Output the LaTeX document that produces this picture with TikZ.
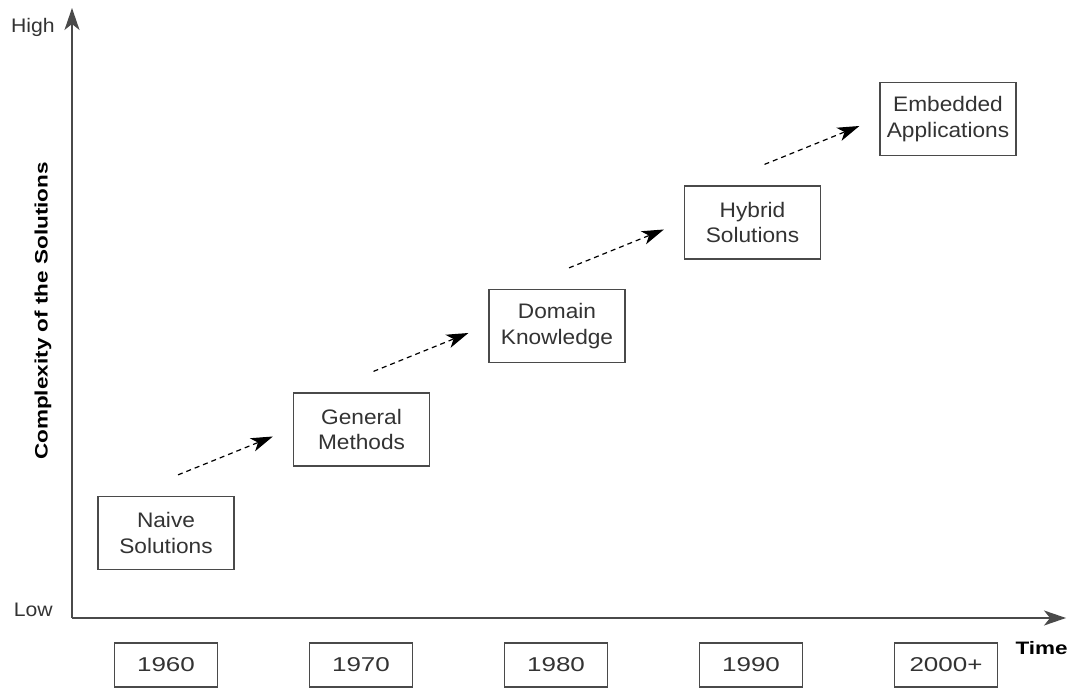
\documentclass[tikz,border=0pt]{standalone}
\usepackage{fontspec}
\setmainfont[FakeStretch=1.08]{Liberation Sans}
\newfontfamily\yearfont[FakeStretch=1.3]{Liberation Sans}
\newfontfamily\headfont[FakeStretch=1.25]{Liberation Sans}
\usetikzlibrary{arrows.meta}
\definecolor{ink}{HTML}{333333}
\definecolor{rule}{HTML}{4A4A4A}
\begin{document}
\begin{tikzpicture}[x=0.5pt,y=-0.5pt,
  stagebox/.style={draw=rule,line width=0.6pt,fill=white,text=ink,align=center,
    minimum width=68pt,minimum height=36.5pt,inner sep=0pt,
    font=\fontsize{10.5}{12.8}\selectfont},
  yearbox/.style={draw=rule,line width=0.6pt,fill=white,text=ink,
    minimum width=51.5pt,minimum height=22pt,inner sep=0pt,
    font=\yearfont\fontsize{10}{12}\selectfont},
  axis/.style={rule,line width=0.8pt,-{Stealth[length=11pt,width=7.5pt,inset=3pt]}},
  flow/.style={black,line width=0.6pt,dash pattern=on 2.5pt off 2pt,
    -{Stealth[length=11pt,width=7pt,inset=3pt]}},
  axislabel/.style={text=ink,font=\fontsize{9.8}{11}\selectfont},
  headlabel/.style={text=black,font=\headfont\bfseries\fontsize{9}{11}\selectfont}]
\useasboundingbox (0,0) rectangle (1079,688);
% axes
\coordinate (origin) at (72,618);
\coordinate (ytip) at (72,8);
\coordinate (xtip) at (1066,618);
\draw [axis] (origin) -- (ytip);
\draw [axis] (origin) -- (xtip);
\node [axislabel,anchor=base east,inner sep=0pt] (high) at (55,33) {High};
\node [axislabel,anchor=base east,inner sep=0pt] (low) at (53,616) {Low};
\node [headlabel,anchor=base east,inner sep=0pt] (time) at (1068,654) {Time};
\node [headlabel,rotate=90] (complexity) at (43,311) {Complexity of the Solutions};
% years
\foreach \yr [count=\i from 0] in {1960,1970,1980,1990,2000+}{
\node [yearbox] (year\i) at (166+195*\i,665) {\yr};
}
% stages
\foreach \name/\txt [count=\i from 0] in {naive/{Naive\\Solutions},general/{General\\Methods},domain/{Domain\\Knowledge},hybrid/{Hybrid\\Solutions},embedded/{Embedded\\Applications}}{
\node [stagebox] (\name) at (166+195.5*\i,533-103.5*\i) {\txt};
}
\foreach \a/\b in {naive/general,general/domain,domain/hybrid,hybrid/embedded}{
\draw [flow] ([shift={(12,-21)}]\a.north) -- ([shift={(-20,7)}]\b.west);
}
\end{tikzpicture}
\end{document}
